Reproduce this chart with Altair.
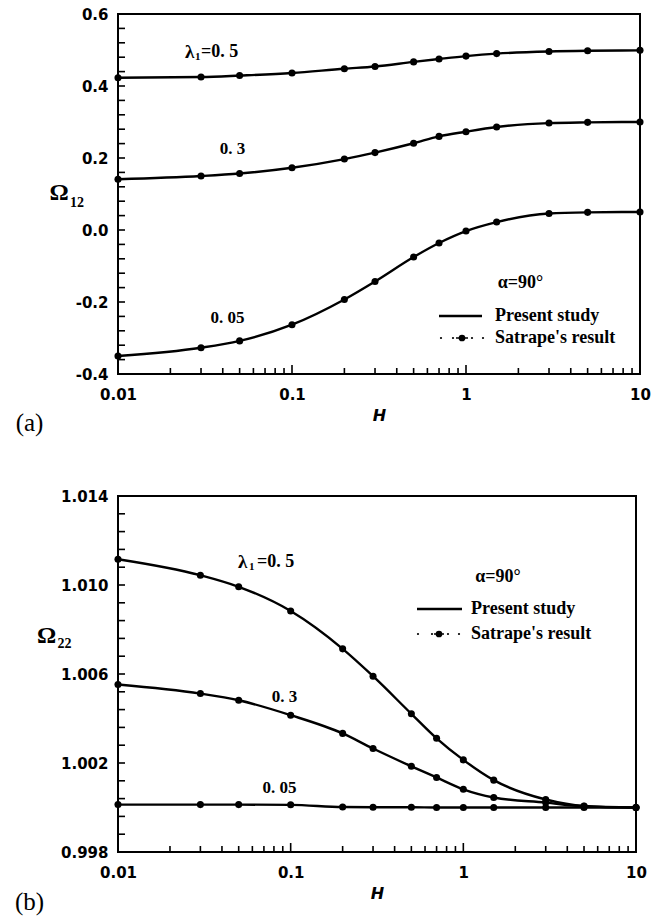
import altair as alt
import pandas as pd

# ---------------- data ----------------
H = [0.01, 0.03, 0.05, 0.1, 0.2, 0.3, 0.5, 0.7, 1, 1.5, 3, 5, 10]

om12_l05 = [0.423, 0.425, 0.429, 0.436, 0.448, 0.454, 0.467, 0.475, 0.483, 0.490, 0.496, 0.498, 0.499]
om12_l03 = [0.141, 0.150, 0.157, 0.173, 0.197, 0.215, 0.241, 0.260, 0.273, 0.286, 0.297, 0.299, 0.300]
om12_l005 = [-0.350, -0.327, -0.308, -0.263, -0.193, -0.143, -0.075, -0.036, -0.003, 0.022, 0.046, 0.049, 0.050]

om22_l05 = [1.01116, 1.01044, 1.00992, 1.00883, 1.00713, 1.00590, 1.00421, 1.00311, 1.00214, 1.00123, 1.00036, 1.00007, 1.00000]
om22_l03 = [1.00553, 1.00512, 1.00482, 1.00415, 1.00333, 1.00265, 1.00185, 1.00135, 1.00082, 1.00045, 1.00022, 1.00005, 1.00000]
om22_l005 = [1.00013, 1.00013, 1.00013, 1.00012, 1.00002, 1.00001, 1.00001, 1.00000, 1.00000, 1.00000, 1.00000, 1.00000, 1.00000]

x_major = [0.01, 0.1, 1, 10]
x_minor = [0.02, 0.03, 0.04, 0.05, 0.06, 0.07, 0.08, 0.09,
           0.2, 0.3, 0.4, 0.5, 0.6, 0.7, 0.8, 0.9,
           2, 3, 4, 5, 6, 7, 8, 9]
y12_major = [-0.4, -0.2, 0.0, 0.2, 0.4, 0.6]
y12_minor = [round(-0.4 + 0.04 * i, 4) for i in range(26)]
y22_major = [0.998, 1.002, 1.006, 1.010, 1.014]
y22_minor = [round(0.998 + 0.0008 * i, 6) for i in range(21)]

SERIF = "Liberation Serif"
SANS = "DejaVu Sans"


def long_df(d):
    rows = []
    for name, vals in d.items():
        for h, v in zip(H, vals):
            rows.append({"H": h, "v": v, "s": name})
    return pd.DataFrame(rows)


def txt(t, x, y, size, font=SERIF, weight="bold", align="center", baseline="middle"):
    return alt.Chart(pd.DataFrame({"t": [t]})).mark_text(
        font=font, fontSize=size, fontWeight=weight, align=align, baseline=baseline, color="black"
    ).encode(x=alt.value(x), y=alt.value(y), text="t:N")


def dot(x, y, size):
    return alt.Chart(pd.DataFrame({"a": [0]})).mark_circle(color="black", opacity=1, size=size).encode(
        x=alt.value(x), y=alt.value(y)
    )


def seg(x1, x2, y, w=2.5):
    return alt.Chart(pd.DataFrame({"a": [0]})).mark_rule(color="black", strokeWidth=w).encode(
        x=alt.value(x1), x2=alt.value(x2), y=alt.value(y)
    )


def panel(df, ydom, ymajor, yminor, label_expr, w, h, ann):
    xs = alt.Scale(type="log", domain=[0.01, 10], nice=False)
    ys = alt.Scale(domain=ydom, nice=False, zero=False)
    X = alt.X("H:Q", scale=xs, axis=alt.Axis(values=x_major, format="~g", title="H", ticks=False,
                                               tickSize=0, domain=False, grid=False, labelPadding=13,
                                               titlePadding=5, labelFlush=False))
    Y = alt.Y("v:Q", scale=ys, axis=alt.Axis(values=ymajor, labelExpr=label_expr, title=None, ticks=False,
                                              tickSize=0, domain=False, grid=False, labelPadding=10,
                                              labelFlush=False))
    base = alt.Chart(df)
    line = base.mark_line(interpolate="monotone", color="black", strokeWidth=2.4).encode(x=X, y=Y, detail="s:N")
    pts = base.mark_circle(color="black", opacity=1, size=50).encode(x=X, y=Y)
    yt = alt.Chart(pd.DataFrame({"v": yminor})).mark_rule(color="black", strokeWidth=1.6).encode(
        y=Y, x=alt.value(0), x2=alt.value(7))
    xt1 = alt.Chart(pd.DataFrame({"H": x_minor})).mark_rule(color="black", strokeWidth=1.6).encode(
        x=X, y=alt.value(h), y2=alt.value(h - 6))
    xt2 = alt.Chart(pd.DataFrame({"H": [0.1, 1]})).mark_rule(color="black", strokeWidth=1.6).encode(
        x=X, y=alt.value(h), y2=alt.value(h - 9))
    return alt.layer(line, pts, yt, xt1, xt2, *ann).properties(width=w, height=h)


df12 = long_df({"0.5": om12_l05, "0.3": om12_l03, "0.05": om12_l005})
df22 = long_df({"0.5": om22_l05, "0.3": om22_l03, "0.05": om22_l005})

lab12 = "datum.value < 0 ? '-' + format(-datum.value, '.1f') : format(datum.value, '.1f')"
lab22 = "format(datum.value, '.3f')"

ann_a = [
    txt("λ", 67, 38, 19, align="left"),
    txt("1", 77, 43, 11, align="left"),
    txt("=0. 5", 83, 38, 18, align="left"),
    txt("0. 3", 114.5, 135, 17),
    txt("0. 05", 109.5, 304, 17),
    txt("α=90°", 402.5, 269, 18),
    seg(321, 364, 302),
    txt("Present study", 377, 302, 18, align="left"),
    dot(323, 324, 5), dot(335, 324, 5), seg(338, 350, 324, 1.5), dot(344, 324, 45), dot(354, 324, 5), dot(365, 324, 5),
    txt("Satrape's result", 377, 324, 18, align="left"),
    txt("Ω", -59, 179, 24),
    txt("12", -41, 189, 14),
    txt("(a)", -88.5, 409, 25, weight="normal"),
]

ann_b = [
    txt("λ", 120, 66, 19, align="left"),
    txt("1", 131, 71, 11, align="left"),
    txt("=0. 5", 139, 66, 18, align="left"),
    txt("0. 3", 166.5, 201, 17),
    txt("0. 05", 161.5, 292, 17),
    txt("α=90°", 380, 81, 18),
    seg(299, 344, 113),
    txt("Present study", 353, 113, 18, align="left"),
    dot(300, 138, 5), dot(314, 138, 5), seg(316, 326, 138, 1.5), dot(321, 138, 45), dot(330, 138, 5), dot(341, 138, 5),
    txt("Satrape's result", 353, 138, 18, align="left"),
    txt("Ω", -71.5, 140, 24),
    txt("22", -53.5, 148, 14),
    txt("(b)", -88.5, 406, 25, weight="normal"),
]

top = panel(df12, [-0.4, 0.6], y12_major, y12_minor, lab12, 522, 360, ann_a)
bot = panel(df22, [0.998, 1.014], y22_major, y22_minor, lab22, 518, 356, ann_b)

chart = alt.vconcat(top, bot, spacing=51).properties(
    padding={"left": 13, "top": 6, "right": 5, "bottom": 0},
    background="white",
).configure_view(stroke="black", strokeWidth=2).configure_axis(
    labelFont=SANS, labelFontWeight="bold", labelFontSize=15, labelColor="black",
    titleFont=SANS, titleFontSize=16, titleFontWeight="bold", titleFontStyle="italic", titleColor="black",
)

chart.save("out.html", embed_options={"renderer": "svg", "actions": False})
